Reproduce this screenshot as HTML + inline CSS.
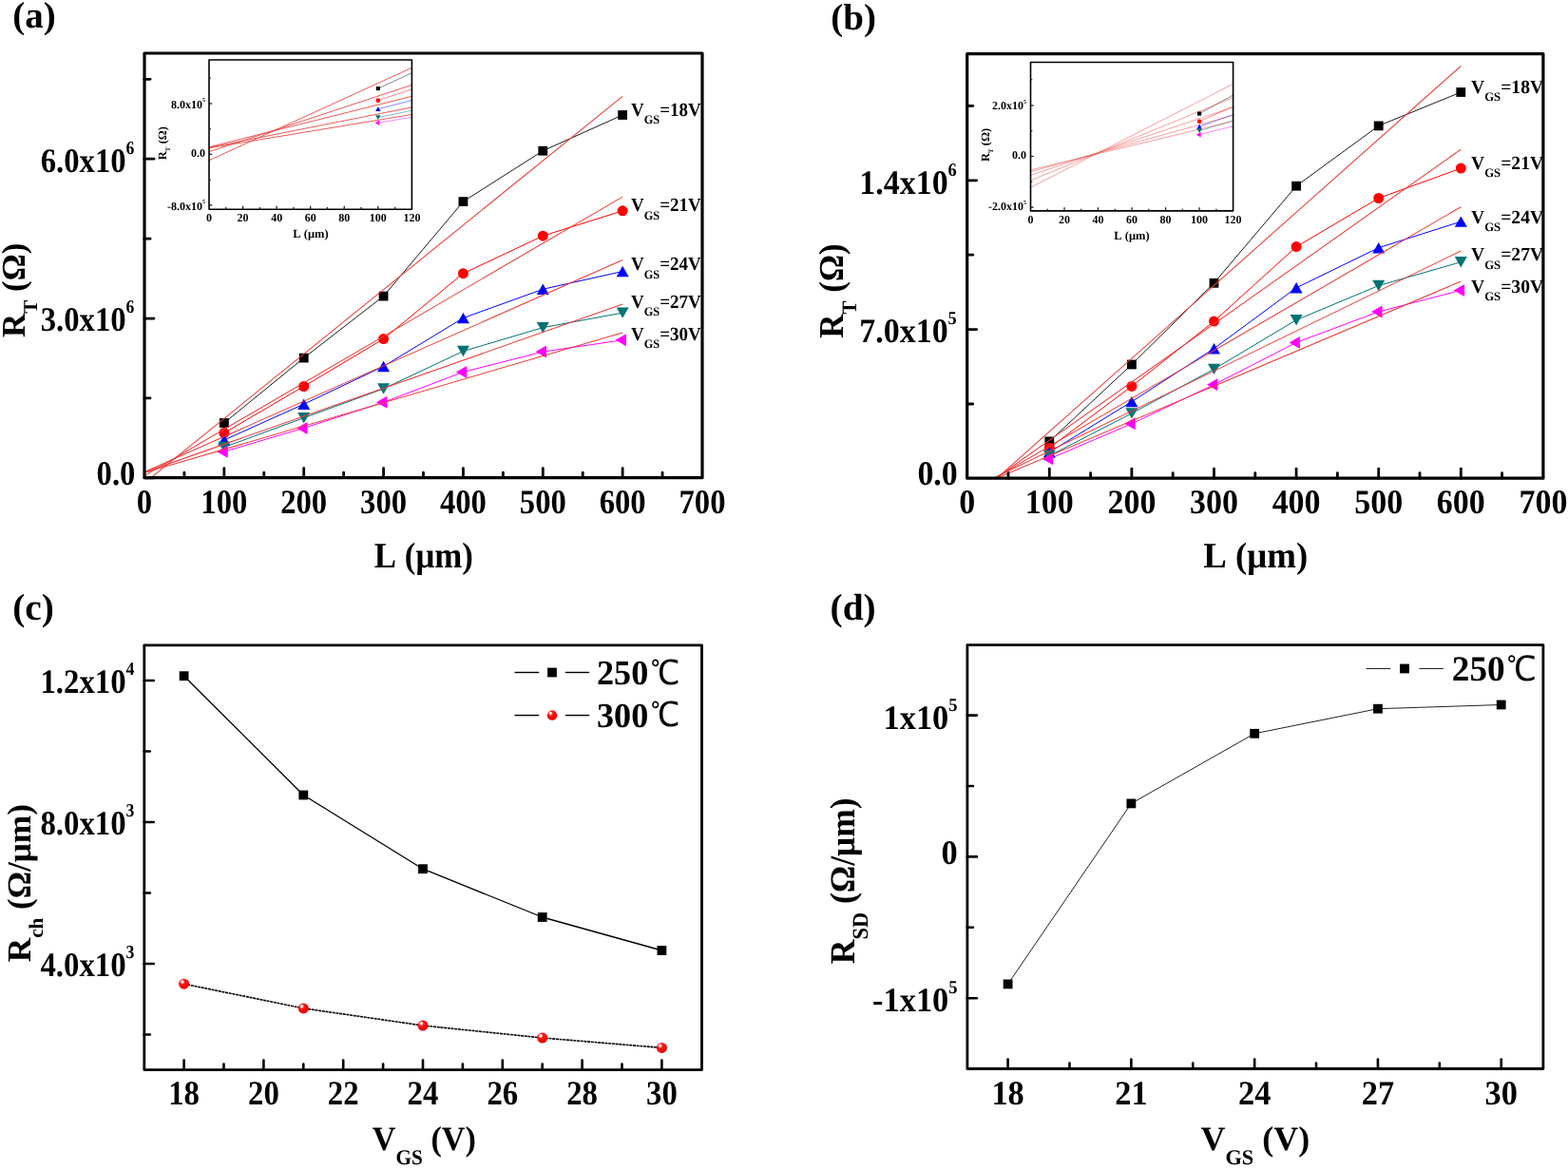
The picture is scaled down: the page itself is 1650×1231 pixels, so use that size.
<!DOCTYPE html>
<html><head><meta charset="utf-8"><title>Figure</title>
<style>
html,body{margin:0;padding:0;background:#fff;}
svg{display:block;}
text{font-kerning:none;text-rendering:geometricPrecision;}
</style></head>
<body>
<svg width="1650" height="1231" viewBox="0 0 1650 1231">
<rect width="1650" height="1231" fill="#fff"/>
<defs><radialGradient id="ball" cx="0.36" cy="0.32" r="0.75" fx="0.34" fy="0.3"><stop offset="0" stop-color="#ffffff"/><stop offset="0.16" stop-color="#ffd0d0"/><stop offset="0.3" stop-color="#ff1a1a"/><stop offset="0.8" stop-color="#ee0000"/><stop offset="1" stop-color="#cc0000"/></radialGradient></defs>
<clipPath id="clipa"><rect x="152" y="56" width="587" height="446.7"/></clipPath>
<g clip-path="url(#clipa)">
<polyline points="235.86,445 319.71,376.6 403.57,311.6 487.43,212.1 571.29,158.7 655.14,121" fill="none" stroke="#1a1a1a" stroke-width="1" stroke-linejoin="round" />
<polyline points="235.86,455.5 319.71,406.5 403.57,356.6 487.43,287.7 571.29,248.2 655.14,221.8" fill="none" stroke="#ff0000" stroke-width="1" stroke-linejoin="round" />
<polyline points="235.86,463 319.71,425.2 403.57,385.5 487.43,334.6 571.29,304.3 655.14,285.5" fill="none" stroke="#0000ff" stroke-width="1" stroke-linejoin="round" />
<polyline points="235.86,470.5 319.71,439.7 403.57,409 487.43,369.5 571.29,344.7 655.14,329.1" fill="none" stroke="#057272" stroke-width="1" stroke-linejoin="round" />
<polyline points="235.86,475.2 319.71,450.4 403.57,423.3 487.43,391.4 571.29,370.1 655.14,357.8" fill="none" stroke="#ff00ff" stroke-width="1" stroke-linejoin="round" />
<rect x="230.96" y="440.1" width="9.8" height="9.8" fill="#000"/>
<rect x="314.81" y="371.7" width="9.8" height="9.8" fill="#000"/>
<rect x="398.67" y="306.7" width="9.8" height="9.8" fill="#000"/>
<rect x="482.53" y="207.2" width="9.8" height="9.8" fill="#000"/>
<rect x="566.39" y="153.8" width="9.8" height="9.8" fill="#000"/>
<rect x="650.24" y="116.1" width="9.8" height="9.8" fill="#000"/>
<circle cx="235.86" cy="455.5" r="5.5" fill="#ff0000"/>
<circle cx="319.71" cy="406.5" r="5.5" fill="#ff0000"/>
<circle cx="403.57" cy="356.6" r="5.5" fill="#ff0000"/>
<circle cx="487.43" cy="287.7" r="5.5" fill="#ff0000"/>
<circle cx="571.29" cy="248.2" r="5.5" fill="#ff0000"/>
<circle cx="655.14" cy="221.8" r="5.5" fill="#ff0000"/>
<polygon points="235.86,457.3 229.36,468.7 242.36,468.7" fill="#0000ff"/>
<polygon points="319.71,419.5 313.21,430.9 326.21,430.9" fill="#0000ff"/>
<polygon points="403.57,379.8 397.07,391.2 410.07,391.2" fill="#0000ff"/>
<polygon points="487.43,328.9 480.93,340.3 493.93,340.3" fill="#0000ff"/>
<polygon points="571.29,298.6 564.79,310 577.79,310" fill="#0000ff"/>
<polygon points="655.14,279.8 648.64,291.2 661.64,291.2" fill="#0000ff"/>
<polygon points="235.86,476.2 229.36,464.8 242.36,464.8" fill="#057272"/>
<polygon points="319.71,445.4 313.21,434 326.21,434" fill="#057272"/>
<polygon points="403.57,414.7 397.07,403.3 410.07,403.3" fill="#057272"/>
<polygon points="487.43,375.2 480.93,363.8 493.93,363.8" fill="#057272"/>
<polygon points="571.29,350.4 564.79,339 577.79,339" fill="#057272"/>
<polygon points="655.14,334.8 648.64,323.4 661.64,323.4" fill="#057272"/>
<polygon points="228.26,475.2 239.66,468.7 239.66,481.7" fill="#ff00ff"/>
<polygon points="312.11,450.4 323.51,443.9 323.51,456.9" fill="#ff00ff"/>
<polygon points="395.97,423.3 407.37,416.8 407.37,429.8" fill="#ff00ff"/>
<polygon points="479.83,391.4 491.23,384.9 491.23,397.9" fill="#ff00ff"/>
<polygon points="563.69,370.1 575.09,363.6 575.09,376.6" fill="#ff00ff"/>
<polygon points="647.54,357.8 658.94,351.3 658.94,364.3" fill="#ff00ff"/>
<line x1="152" y1="508.15" x2="655.14" y2="101.32" stroke="#ea3c3c" stroke-width="1.05" stroke-linecap="butt" />
<line x1="152" y1="500.61" x2="655.14" y2="207.08" stroke="#ea3c3c" stroke-width="1.05" stroke-linecap="butt" />
<line x1="152" y1="496.46" x2="655.14" y2="273.41" stroke="#ea3c3c" stroke-width="1.05" stroke-linecap="butt" />
<line x1="152" y1="496.9" x2="655.14" y2="320.07" stroke="#ea3c3c" stroke-width="1.05" stroke-linecap="butt" />
<line x1="152" y1="497.35" x2="655.14" y2="349.95" stroke="#ea3c3c" stroke-width="1.05" stroke-linecap="butt" />
</g>
<rect x="152" y="56" width="587" height="446.7" fill="none" stroke="#000" stroke-width="3.2" stroke-linejoin="round"/>
<line x1="235.86" y1="502.7" x2="235.86" y2="492.7" stroke="#000" stroke-width="2.8" stroke-linecap="round" />
<line x1="319.71" y1="502.7" x2="319.71" y2="492.7" stroke="#000" stroke-width="2.8" stroke-linecap="round" />
<line x1="403.57" y1="502.7" x2="403.57" y2="492.7" stroke="#000" stroke-width="2.8" stroke-linecap="round" />
<line x1="487.43" y1="502.7" x2="487.43" y2="492.7" stroke="#000" stroke-width="2.8" stroke-linecap="round" />
<line x1="571.29" y1="502.7" x2="571.29" y2="492.7" stroke="#000" stroke-width="2.8" stroke-linecap="round" />
<line x1="655.14" y1="502.7" x2="655.14" y2="492.7" stroke="#000" stroke-width="2.8" stroke-linecap="round" />
<line x1="193.93" y1="502.7" x2="193.93" y2="497.2" stroke="#000" stroke-width="2.8" stroke-linecap="round" />
<line x1="277.79" y1="502.7" x2="277.79" y2="497.2" stroke="#000" stroke-width="2.8" stroke-linecap="round" />
<line x1="361.64" y1="502.7" x2="361.64" y2="497.2" stroke="#000" stroke-width="2.8" stroke-linecap="round" />
<line x1="445.5" y1="502.7" x2="445.5" y2="497.2" stroke="#000" stroke-width="2.8" stroke-linecap="round" />
<line x1="529.36" y1="502.7" x2="529.36" y2="497.2" stroke="#000" stroke-width="2.8" stroke-linecap="round" />
<line x1="613.21" y1="502.7" x2="613.21" y2="497.2" stroke="#000" stroke-width="2.8" stroke-linecap="round" />
<line x1="697.07" y1="502.7" x2="697.07" y2="497.2" stroke="#000" stroke-width="2.8" stroke-linecap="round" />
<line x1="152" y1="502.8" x2="162" y2="502.8" stroke="#000" stroke-width="2.8" stroke-linecap="round" />
<line x1="152" y1="335.1" x2="162" y2="335.1" stroke="#000" stroke-width="2.8" stroke-linecap="round" />
<line x1="152" y1="167.2" x2="162" y2="167.2" stroke="#000" stroke-width="2.8" stroke-linecap="round" />
<line x1="152" y1="418.9" x2="158" y2="418.9" stroke="#000" stroke-width="2.8" stroke-linecap="round" />
<line x1="152" y1="251.2" x2="158" y2="251.2" stroke="#000" stroke-width="2.8" stroke-linecap="round" />
<line x1="152" y1="83.3" x2="158" y2="83.3" stroke="#000" stroke-width="2.8" stroke-linecap="round" />
<text transform="translate(152,539.6) scale(0.907,1.0)" font-family="'Liberation Serif', 'Noto Serif CJK SC', serif" font-weight="bold" font-size="36" text-anchor="middle" fill="#000">0</text>
<text transform="translate(235.86,539.6) scale(0.907,1.0)" font-family="'Liberation Serif', 'Noto Serif CJK SC', serif" font-weight="bold" font-size="36" text-anchor="middle" fill="#000">100</text>
<text transform="translate(319.71,539.6) scale(0.907,1.0)" font-family="'Liberation Serif', 'Noto Serif CJK SC', serif" font-weight="bold" font-size="36" text-anchor="middle" fill="#000">200</text>
<text transform="translate(403.57,539.6) scale(0.907,1.0)" font-family="'Liberation Serif', 'Noto Serif CJK SC', serif" font-weight="bold" font-size="36" text-anchor="middle" fill="#000">300</text>
<text transform="translate(487.43,539.6) scale(0.907,1.0)" font-family="'Liberation Serif', 'Noto Serif CJK SC', serif" font-weight="bold" font-size="36" text-anchor="middle" fill="#000">400</text>
<text transform="translate(571.29,539.6) scale(0.907,1.0)" font-family="'Liberation Serif', 'Noto Serif CJK SC', serif" font-weight="bold" font-size="36" text-anchor="middle" fill="#000">500</text>
<text transform="translate(655.14,539.6) scale(0.907,1.0)" font-family="'Liberation Serif', 'Noto Serif CJK SC', serif" font-weight="bold" font-size="36" text-anchor="middle" fill="#000">600</text>
<text transform="translate(739,539.6) scale(0.907,1.0)" font-family="'Liberation Serif', 'Noto Serif CJK SC', serif" font-weight="bold" font-size="36" text-anchor="middle" fill="#000">700</text>
<text transform="translate(142.4,509.6) scale(0.907,1.0)" font-family="'Liberation Serif', 'Noto Serif CJK SC', serif" font-weight="bold" font-size="36" text-anchor="end" fill="#000">0.0</text>
<text transform="translate(141.4,348) scale(0.907,1.0)" font-family="'Liberation Serif', 'Noto Serif CJK SC', serif" font-weight="bold" font-size="36" text-anchor="end" fill="#000">3.0x10<tspan font-size="19.5" dy="-18.9">6</tspan></text>
<text transform="translate(141.4,180.6) scale(0.907,1.0)" font-family="'Liberation Serif', 'Noto Serif CJK SC', serif" font-weight="bold" font-size="36" text-anchor="end" fill="#000">6.0x10<tspan font-size="19.5" dy="-18.9">6</tspan></text>
<text transform="translate(445.8,596.7) scale(0.918,1.0)" font-family="'Liberation Serif', 'Noto Serif CJK SC', serif" font-weight="bold" font-size="38" text-anchor="middle" fill="#000">L (μm)</text>
<text transform="translate(25.8,355) rotate(-90)" font-family="'Liberation Serif', 'Noto Serif CJK SC', serif" font-weight="bold" font-size="35" text-anchor="start" fill="#000">R<tspan font-size="21" dy="13.6">T</tspan><tspan font-size="35" dy="-13.6"> (Ω)</tspan></text>
<text transform="translate(664,121.8) scale(0.95,1.0)" font-family="'Liberation Serif', 'Noto Serif CJK SC', serif" font-weight="bold" font-size="20" text-anchor="start" fill="#000">V<tspan font-size="13" dy="8.4">GS</tspan><tspan font-size="20" dy="-8.4">=18V</tspan></text>
<text transform="translate(664,222.1) scale(0.95,1.0)" font-family="'Liberation Serif', 'Noto Serif CJK SC', serif" font-weight="bold" font-size="20" text-anchor="start" fill="#000">V<tspan font-size="13" dy="8.4">GS</tspan><tspan font-size="20" dy="-8.4">=21V</tspan></text>
<text transform="translate(664,284.2) scale(0.95,1.0)" font-family="'Liberation Serif', 'Noto Serif CJK SC', serif" font-weight="bold" font-size="20" text-anchor="start" fill="#000">V<tspan font-size="13" dy="8.4">GS</tspan><tspan font-size="20" dy="-8.4">=24V</tspan></text>
<text transform="translate(664,323.7) scale(0.95,1.0)" font-family="'Liberation Serif', 'Noto Serif CJK SC', serif" font-weight="bold" font-size="20" text-anchor="start" fill="#000">V<tspan font-size="13" dy="8.4">GS</tspan><tspan font-size="20" dy="-8.4">=27V</tspan></text>
<text transform="translate(664,357.8) scale(0.95,1.0)" font-family="'Liberation Serif', 'Noto Serif CJK SC', serif" font-weight="bold" font-size="20" text-anchor="start" fill="#000">V<tspan font-size="13" dy="8.4">GS</tspan><tspan font-size="20" dy="-8.4">=30V</tspan></text>
<text transform="translate(13.25,29.2)" font-family="'Liberation Serif', 'Noto Serif CJK SC', serif" font-weight="bold" font-size="39" text-anchor="start" fill="#000">(a)</text>
<rect x="220" y="63" width="213.4" height="157.3" fill="#fff"/>
<clipPath id="clipia"><rect x="220" y="63" width="213.4" height="157.3"/></clipPath>
<g clip-path="url(#clipia)">
<polyline points="397.83,93.11 575.67,11.23" fill="none" stroke="#000000" stroke-width="0.8" stroke-linejoin="round" stroke-opacity="0.6"/>
<polyline points="397.83,105.68 575.67,47.02" fill="none" stroke="#ff0000" stroke-width="0.8" stroke-linejoin="round" stroke-opacity="0.6"/>
<polyline points="397.83,114.66 575.67,69.41" fill="none" stroke="#0000ff" stroke-width="0.8" stroke-linejoin="round" stroke-opacity="0.6"/>
<polyline points="397.83,123.63 575.67,86.76" fill="none" stroke="#057272" stroke-width="0.8" stroke-linejoin="round" stroke-opacity="0.6"/>
<polyline points="397.83,129.26 575.67,99.57" fill="none" stroke="#ff00ff" stroke-width="0.8" stroke-linejoin="round" stroke-opacity="0.6"/>
<line x1="220" y1="168.71" x2="433.4" y2="71.3" stroke="#ea3c3c" stroke-width="0.9" stroke-linecap="butt" stroke-opacity="0.95"/>
<line x1="220" y1="159.68" x2="433.4" y2="89.4" stroke="#ea3c3c" stroke-width="0.9" stroke-linecap="butt" stroke-opacity="0.95"/>
<line x1="220" y1="154.71" x2="433.4" y2="101.31" stroke="#ea3c3c" stroke-width="0.9" stroke-linecap="butt" stroke-opacity="0.95"/>
<line x1="220" y1="155.24" x2="433.4" y2="112.9" stroke="#ea3c3c" stroke-width="0.9" stroke-linecap="butt" stroke-opacity="0.95"/>
<line x1="220" y1="155.77" x2="433.4" y2="120.48" stroke="#ea3c3c" stroke-width="0.9" stroke-linecap="butt" stroke-opacity="0.95"/>
<rect x="395.78" y="91.05" width="4.12" height="4.12" fill="#000"/>
<circle cx="397.83" cy="105.68" r="2.31" fill="#ff0000"/>
<polygon points="397.83,112.26 395.1,117.05 400.56,117.05" fill="#0000ff"/>
<polygon points="397.83,126.03 395.1,121.24 400.56,121.24" fill="#057272"/>
<polygon points="394.64,129.26 399.43,126.53 399.43,131.99" fill="#ff00ff"/>
</g>
<rect x="220" y="63" width="213.4" height="157.3" fill="none" stroke="#000" stroke-width="1.6" stroke-linejoin="round"/>
<line x1="255.57" y1="220.3" x2="255.57" y2="217.1" stroke="#222" stroke-width="1.3" stroke-linecap="round" />
<line x1="291.13" y1="220.3" x2="291.13" y2="217.1" stroke="#222" stroke-width="1.3" stroke-linecap="round" />
<line x1="326.7" y1="220.3" x2="326.7" y2="217.1" stroke="#222" stroke-width="1.3" stroke-linecap="round" />
<line x1="362.27" y1="220.3" x2="362.27" y2="217.1" stroke="#222" stroke-width="1.3" stroke-linecap="round" />
<line x1="397.83" y1="220.3" x2="397.83" y2="217.1" stroke="#222" stroke-width="1.3" stroke-linecap="round" />
<line x1="237.78" y1="220.3" x2="237.78" y2="218.5" stroke="#222" stroke-width="1.3" stroke-linecap="round" />
<line x1="273.35" y1="220.3" x2="273.35" y2="218.5" stroke="#222" stroke-width="1.3" stroke-linecap="round" />
<line x1="308.92" y1="220.3" x2="308.92" y2="218.5" stroke="#222" stroke-width="1.3" stroke-linecap="round" />
<line x1="344.48" y1="220.3" x2="344.48" y2="218.5" stroke="#222" stroke-width="1.3" stroke-linecap="round" />
<line x1="380.05" y1="220.3" x2="380.05" y2="218.5" stroke="#222" stroke-width="1.3" stroke-linecap="round" />
<line x1="415.62" y1="220.3" x2="415.62" y2="218.5" stroke="#222" stroke-width="1.3" stroke-linecap="round" />
<line x1="220" y1="215.9" x2="223.2" y2="215.9" stroke="#222" stroke-width="1.3" stroke-linecap="butt" />
<line x1="220" y1="162.3" x2="223.2" y2="162.3" stroke="#222" stroke-width="1.3" stroke-linecap="butt" />
<line x1="220" y1="109" x2="223.2" y2="109" stroke="#222" stroke-width="1.3" stroke-linecap="butt" />
<line x1="220" y1="189.1" x2="221.8" y2="189.1" stroke="#222" stroke-width="1.3" stroke-linecap="butt" />
<line x1="220" y1="135.6" x2="221.8" y2="135.6" stroke="#222" stroke-width="1.3" stroke-linecap="butt" />
<line x1="220" y1="82.2" x2="221.8" y2="82.2" stroke="#222" stroke-width="1.3" stroke-linecap="butt" />
<text transform="translate(220,233)" font-family="'Liberation Serif', 'Noto Serif CJK SC', serif" font-weight="bold" font-size="12" text-anchor="middle" fill="#000">0</text>
<text transform="translate(255.57,233)" font-family="'Liberation Serif', 'Noto Serif CJK SC', serif" font-weight="bold" font-size="12" text-anchor="middle" fill="#000">20</text>
<text transform="translate(291.13,233)" font-family="'Liberation Serif', 'Noto Serif CJK SC', serif" font-weight="bold" font-size="12" text-anchor="middle" fill="#000">40</text>
<text transform="translate(326.7,233)" font-family="'Liberation Serif', 'Noto Serif CJK SC', serif" font-weight="bold" font-size="12" text-anchor="middle" fill="#000">60</text>
<text transform="translate(362.27,233)" font-family="'Liberation Serif', 'Noto Serif CJK SC', serif" font-weight="bold" font-size="12" text-anchor="middle" fill="#000">80</text>
<text transform="translate(397.83,233)" font-family="'Liberation Serif', 'Noto Serif CJK SC', serif" font-weight="bold" font-size="12" text-anchor="middle" fill="#000">100</text>
<text transform="translate(433.4,233)" font-family="'Liberation Serif', 'Noto Serif CJK SC', serif" font-weight="bold" font-size="12" text-anchor="middle" fill="#000">120</text>
<text transform="translate(216,220.6)" font-family="'Liberation Serif', 'Noto Serif CJK SC', serif" font-weight="bold" font-size="12" text-anchor="end" fill="#000">-8.0x10<tspan font-size="6" dy="-6.3">5</tspan></text>
<text transform="translate(216,164.7)" font-family="'Liberation Serif', 'Noto Serif CJK SC', serif" font-weight="bold" font-size="12" text-anchor="end" fill="#000">0.0</text>
<text transform="translate(216,113.6)" font-family="'Liberation Serif', 'Noto Serif CJK SC', serif" font-weight="bold" font-size="12" text-anchor="end" fill="#000">8.0x10<tspan font-size="6" dy="-6.3">5</tspan></text>
<text transform="translate(327,250.4)" font-family="'Liberation Serif', 'Noto Serif CJK SC', serif" font-weight="bold" font-size="12.5" text-anchor="middle" fill="#000">L (μm)</text>
<text transform="translate(175.3,168.2) rotate(-90)" font-family="'Liberation Serif', 'Noto Serif CJK SC', serif" font-weight="bold" font-size="12.5" text-anchor="start" fill="#000">R<tspan font-size="7" dy="4">T</tspan><tspan font-size="12.5" dy="-4"> (Ω)</tspan></text>
<clipPath id="clipb"><rect x="1017.7" y="56.7" width="606.2" height="446.5"/></clipPath>
<g clip-path="url(#clipb)">
<polyline points="1104.3,464.4 1190.9,383.5 1277.5,297.8 1364.1,195.7 1450.7,132.4 1537.3,97" fill="none" stroke="#1a1a1a" stroke-width="1" stroke-linejoin="round" />
<polyline points="1104.3,471.2 1190.9,406.4 1277.5,338.1 1364.1,259.6 1450.7,208.5 1537.3,177.1" fill="none" stroke="#ff0000" stroke-width="1" stroke-linejoin="round" />
<polyline points="1104.3,475.8 1190.9,422.6 1277.5,366.7 1364.1,302.8 1450.7,260.7 1537.3,233.1" fill="none" stroke="#0000ff" stroke-width="1" stroke-linejoin="round" />
<polyline points="1104.3,479.5 1190.9,434.9 1277.5,388.4 1364.1,336.7 1450.7,300.5 1537.3,275.7" fill="none" stroke="#057272" stroke-width="1" stroke-linejoin="round" />
<polyline points="1104.3,482.8 1190.9,445.8 1277.5,404.7 1364.1,360.4 1450.7,328 1537.3,305.4" fill="none" stroke="#ff00ff" stroke-width="1" stroke-linejoin="round" />
<rect x="1099.4" y="459.5" width="9.8" height="9.8" fill="#000"/>
<rect x="1186" y="378.6" width="9.8" height="9.8" fill="#000"/>
<rect x="1272.6" y="292.9" width="9.8" height="9.8" fill="#000"/>
<rect x="1359.2" y="190.8" width="9.8" height="9.8" fill="#000"/>
<rect x="1445.8" y="127.5" width="9.8" height="9.8" fill="#000"/>
<rect x="1532.4" y="92.1" width="9.8" height="9.8" fill="#000"/>
<circle cx="1104.3" cy="471.2" r="5.5" fill="#ff0000"/>
<circle cx="1190.9" cy="406.4" r="5.5" fill="#ff0000"/>
<circle cx="1277.5" cy="338.1" r="5.5" fill="#ff0000"/>
<circle cx="1364.1" cy="259.6" r="5.5" fill="#ff0000"/>
<circle cx="1450.7" cy="208.5" r="5.5" fill="#ff0000"/>
<circle cx="1537.3" cy="177.1" r="5.5" fill="#ff0000"/>
<polygon points="1104.3,470.1 1097.8,481.5 1110.8,481.5" fill="#0000ff"/>
<polygon points="1190.9,416.9 1184.4,428.3 1197.4,428.3" fill="#0000ff"/>
<polygon points="1277.5,361 1271,372.4 1284,372.4" fill="#0000ff"/>
<polygon points="1364.1,297.1 1357.6,308.5 1370.6,308.5" fill="#0000ff"/>
<polygon points="1450.7,255 1444.2,266.4 1457.2,266.4" fill="#0000ff"/>
<polygon points="1537.3,227.4 1530.8,238.8 1543.8,238.8" fill="#0000ff"/>
<polygon points="1104.3,485.2 1097.8,473.8 1110.8,473.8" fill="#057272"/>
<polygon points="1190.9,440.6 1184.4,429.2 1197.4,429.2" fill="#057272"/>
<polygon points="1277.5,394.1 1271,382.7 1284,382.7" fill="#057272"/>
<polygon points="1364.1,342.4 1357.6,331 1370.6,331" fill="#057272"/>
<polygon points="1450.7,306.2 1444.2,294.8 1457.2,294.8" fill="#057272"/>
<polygon points="1537.3,281.4 1530.8,270 1543.8,270" fill="#057272"/>
<polygon points="1096.7,482.8 1108.1,476.3 1108.1,489.3" fill="#ff00ff"/>
<polygon points="1183.3,445.8 1194.7,439.3 1194.7,452.3" fill="#ff00ff"/>
<polygon points="1269.9,404.7 1281.3,398.2 1281.3,411.2" fill="#ff00ff"/>
<polygon points="1356.5,360.4 1367.9,353.9 1367.9,366.9" fill="#ff00ff"/>
<polygon points="1443.1,328 1454.5,321.5 1454.5,334.5" fill="#ff00ff"/>
<polygon points="1529.7,305.4 1541.1,298.9 1541.1,311.9" fill="#ff00ff"/>
<line x1="1017.7" y1="531.04" x2="1537.3" y2="69.49" stroke="#ea3c3c" stroke-width="1.05" stroke-linecap="butt" />
<line x1="1017.7" y1="524.42" x2="1537.3" y2="157.1" stroke="#ea3c3c" stroke-width="1.05" stroke-linecap="butt" />
<line x1="1017.7" y1="519.93" x2="1537.3" y2="217.68" stroke="#ea3c3c" stroke-width="1.05" stroke-linecap="butt" />
<line x1="1017.7" y1="516.67" x2="1537.3" y2="264" stroke="#ea3c3c" stroke-width="1.05" stroke-linecap="butt" />
<line x1="1017.7" y1="516.32" x2="1537.3" y2="296.09" stroke="#ea3c3c" stroke-width="1.05" stroke-linecap="butt" />
</g>
<rect x="1017.7" y="56.7" width="606.2" height="446.5" fill="none" stroke="#000" stroke-width="3.2" stroke-linejoin="round"/>
<line x1="1104.3" y1="503.2" x2="1104.3" y2="493.2" stroke="#000" stroke-width="2.8" stroke-linecap="round" />
<line x1="1190.9" y1="503.2" x2="1190.9" y2="493.2" stroke="#000" stroke-width="2.8" stroke-linecap="round" />
<line x1="1277.5" y1="503.2" x2="1277.5" y2="493.2" stroke="#000" stroke-width="2.8" stroke-linecap="round" />
<line x1="1364.1" y1="503.2" x2="1364.1" y2="493.2" stroke="#000" stroke-width="2.8" stroke-linecap="round" />
<line x1="1450.7" y1="503.2" x2="1450.7" y2="493.2" stroke="#000" stroke-width="2.8" stroke-linecap="round" />
<line x1="1537.3" y1="503.2" x2="1537.3" y2="493.2" stroke="#000" stroke-width="2.8" stroke-linecap="round" />
<line x1="1061" y1="503.2" x2="1061" y2="497.7" stroke="#000" stroke-width="2.8" stroke-linecap="round" />
<line x1="1147.6" y1="503.2" x2="1147.6" y2="497.7" stroke="#000" stroke-width="2.8" stroke-linecap="round" />
<line x1="1234.2" y1="503.2" x2="1234.2" y2="497.7" stroke="#000" stroke-width="2.8" stroke-linecap="round" />
<line x1="1320.8" y1="503.2" x2="1320.8" y2="497.7" stroke="#000" stroke-width="2.8" stroke-linecap="round" />
<line x1="1407.4" y1="503.2" x2="1407.4" y2="497.7" stroke="#000" stroke-width="2.8" stroke-linecap="round" />
<line x1="1494" y1="503.2" x2="1494" y2="497.7" stroke="#000" stroke-width="2.8" stroke-linecap="round" />
<line x1="1580.6" y1="503.2" x2="1580.6" y2="497.7" stroke="#000" stroke-width="2.8" stroke-linecap="round" />
<line x1="1017.7" y1="346.6" x2="1027.7" y2="346.6" stroke="#000" stroke-width="2.8" stroke-linecap="round" />
<line x1="1017.7" y1="189.8" x2="1027.7" y2="189.8" stroke="#000" stroke-width="2.8" stroke-linecap="round" />
<line x1="1017.7" y1="425" x2="1023.7" y2="425" stroke="#000" stroke-width="2.8" stroke-linecap="round" />
<line x1="1017.7" y1="268.2" x2="1023.7" y2="268.2" stroke="#000" stroke-width="2.8" stroke-linecap="round" />
<line x1="1017.7" y1="111.4" x2="1023.7" y2="111.4" stroke="#000" stroke-width="2.8" stroke-linecap="round" />
<text transform="translate(1017.7,539.5) scale(0.942,1.0)" font-family="'Liberation Serif', 'Noto Serif CJK SC', serif" font-weight="bold" font-size="36" text-anchor="middle" fill="#000">0</text>
<text transform="translate(1104.3,539.5) scale(0.942,1.0)" font-family="'Liberation Serif', 'Noto Serif CJK SC', serif" font-weight="bold" font-size="36" text-anchor="middle" fill="#000">100</text>
<text transform="translate(1190.9,539.5) scale(0.942,1.0)" font-family="'Liberation Serif', 'Noto Serif CJK SC', serif" font-weight="bold" font-size="36" text-anchor="middle" fill="#000">200</text>
<text transform="translate(1277.5,539.5) scale(0.942,1.0)" font-family="'Liberation Serif', 'Noto Serif CJK SC', serif" font-weight="bold" font-size="36" text-anchor="middle" fill="#000">300</text>
<text transform="translate(1364.1,539.5) scale(0.942,1.0)" font-family="'Liberation Serif', 'Noto Serif CJK SC', serif" font-weight="bold" font-size="36" text-anchor="middle" fill="#000">400</text>
<text transform="translate(1450.7,539.5) scale(0.942,1.0)" font-family="'Liberation Serif', 'Noto Serif CJK SC', serif" font-weight="bold" font-size="36" text-anchor="middle" fill="#000">500</text>
<text transform="translate(1537.3,539.5) scale(0.942,1.0)" font-family="'Liberation Serif', 'Noto Serif CJK SC', serif" font-weight="bold" font-size="36" text-anchor="middle" fill="#000">600</text>
<text transform="translate(1623.9,539.5) scale(0.942,1.0)" font-family="'Liberation Serif', 'Noto Serif CJK SC', serif" font-weight="bold" font-size="36" text-anchor="middle" fill="#000">700</text>
<text transform="translate(1007.8,509.9) scale(0.942,1.0)" font-family="'Liberation Serif', 'Noto Serif CJK SC', serif" font-weight="bold" font-size="36" text-anchor="end" fill="#000">0.0</text>
<text transform="translate(1006.8,359.6) scale(0.942,1.0)" font-family="'Liberation Serif', 'Noto Serif CJK SC', serif" font-weight="bold" font-size="36" text-anchor="end" fill="#000">7.0x10<tspan font-size="19.5" dy="-18.9">5</tspan></text>
<text transform="translate(1006.8,203.6) scale(0.942,1.0)" font-family="'Liberation Serif', 'Noto Serif CJK SC', serif" font-weight="bold" font-size="36" text-anchor="end" fill="#000">1.4x10<tspan font-size="19.5" dy="-18.9">6</tspan></text>
<text transform="translate(1321.2,597) scale(0.97,1.0)" font-family="'Liberation Serif', 'Noto Serif CJK SC', serif" font-weight="bold" font-size="38" text-anchor="middle" fill="#000">L (μm)</text>
<text transform="translate(886.9,355.8) rotate(-90) scale(1.0,1.045)" font-family="'Liberation Serif', 'Noto Serif CJK SC', serif" font-weight="bold" font-size="35" text-anchor="start" fill="#000">R<tspan font-size="21" dy="13.6">T</tspan><tspan font-size="35" dy="-13.6"> (Ω)</tspan></text>
<text transform="translate(1548,97.7) scale(0.98,1.0)" font-family="'Liberation Serif', 'Noto Serif CJK SC', serif" font-weight="bold" font-size="20" text-anchor="start" fill="#000">V<tspan font-size="13" dy="8.4">GS</tspan><tspan font-size="20" dy="-8.4">=18V</tspan></text>
<text transform="translate(1548,177.7) scale(0.98,1.0)" font-family="'Liberation Serif', 'Noto Serif CJK SC', serif" font-weight="bold" font-size="20" text-anchor="start" fill="#000">V<tspan font-size="13" dy="8.4">GS</tspan><tspan font-size="20" dy="-8.4">=21V</tspan></text>
<text transform="translate(1548,234.5) scale(0.98,1.0)" font-family="'Liberation Serif', 'Noto Serif CJK SC', serif" font-weight="bold" font-size="20" text-anchor="start" fill="#000">V<tspan font-size="13" dy="8.4">GS</tspan><tspan font-size="20" dy="-8.4">=24V</tspan></text>
<text transform="translate(1548,274.2) scale(0.98,1.0)" font-family="'Liberation Serif', 'Noto Serif CJK SC', serif" font-weight="bold" font-size="20" text-anchor="start" fill="#000">V<tspan font-size="13" dy="8.4">GS</tspan><tspan font-size="20" dy="-8.4">=27V</tspan></text>
<text transform="translate(1548,307.8) scale(0.98,1.0)" font-family="'Liberation Serif', 'Noto Serif CJK SC', serif" font-weight="bold" font-size="20" text-anchor="start" fill="#000">V<tspan font-size="13" dy="8.4">GS</tspan><tspan font-size="20" dy="-8.4">=30V</tspan></text>
<text transform="translate(874.25,31.1)" font-family="'Liberation Serif', 'Noto Serif CJK SC', serif" font-weight="bold" font-size="39" text-anchor="start" fill="#000">(b)</text>
<rect x="1084.5" y="65.5" width="213.1" height="156.4" fill="#fff"/>
<clipPath id="clipib"><rect x="1084.5" y="65.5" width="213.1" height="156.4"/></clipPath>
<g clip-path="url(#clipib)">
<polyline points="1262.08,119.55 1439.67,22.33" fill="none" stroke="#000000" stroke-width="0.8" stroke-linejoin="round" stroke-opacity="0.6"/>
<polyline points="1262.08,127.72 1439.67,49.85" fill="none" stroke="#ff0000" stroke-width="0.8" stroke-linejoin="round" stroke-opacity="0.6"/>
<polyline points="1262.08,133.25 1439.67,69.32" fill="none" stroke="#0000ff" stroke-width="0.8" stroke-linejoin="round" stroke-opacity="0.6"/>
<polyline points="1262.08,137.7 1439.67,84.1" fill="none" stroke="#057272" stroke-width="0.8" stroke-linejoin="round" stroke-opacity="0.6"/>
<polyline points="1262.08,141.67 1439.67,97.2" fill="none" stroke="#ff00ff" stroke-width="0.8" stroke-linejoin="round" stroke-opacity="0.6"/>
<line x1="1084.5" y1="197.2" x2="1297.6" y2="88.3" stroke="#ea3c3c" stroke-width="0.9" stroke-linecap="butt" stroke-opacity="0.55"/>
<line x1="1084.5" y1="189.9" x2="1297.6" y2="102.6" stroke="#ea3c3c" stroke-width="0.9" stroke-linecap="butt" stroke-opacity="0.55"/>
<line x1="1084.5" y1="184.4" x2="1297.6" y2="112.8" stroke="#ea3c3c" stroke-width="0.9" stroke-linecap="butt" stroke-opacity="0.55"/>
<line x1="1084.5" y1="180.7" x2="1297.6" y2="121.4" stroke="#ea3c3c" stroke-width="0.9" stroke-linecap="butt" stroke-opacity="0.55"/>
<line x1="1084.5" y1="178.9" x2="1297.6" y2="127.4" stroke="#ea3c3c" stroke-width="0.9" stroke-linecap="butt" stroke-opacity="0.55"/>
<rect x="1260.03" y="117.49" width="4.12" height="4.12" fill="#000"/>
<circle cx="1262.08" cy="127.72" r="2.31" fill="#ff0000"/>
<polygon points="1262.08,130.86 1259.35,135.65 1264.81,135.65" fill="#0000ff"/>
<polygon points="1262.08,140.09 1259.35,135.31 1264.81,135.31" fill="#057272"/>
<polygon points="1258.89,141.67 1263.68,138.94 1263.68,144.4" fill="#ff00ff"/>
</g>
<rect x="1084.5" y="65.5" width="213.1" height="156.4" fill="none" stroke="#000" stroke-width="1.6" stroke-linejoin="round"/>
<line x1="1120.02" y1="221.9" x2="1120.02" y2="218.7" stroke="#222" stroke-width="1.3" stroke-linecap="round" />
<line x1="1155.53" y1="221.9" x2="1155.53" y2="218.7" stroke="#222" stroke-width="1.3" stroke-linecap="round" />
<line x1="1191.05" y1="221.9" x2="1191.05" y2="218.7" stroke="#222" stroke-width="1.3" stroke-linecap="round" />
<line x1="1226.57" y1="221.9" x2="1226.57" y2="218.7" stroke="#222" stroke-width="1.3" stroke-linecap="round" />
<line x1="1262.08" y1="221.9" x2="1262.08" y2="218.7" stroke="#222" stroke-width="1.3" stroke-linecap="round" />
<line x1="1102.26" y1="221.9" x2="1102.26" y2="220.1" stroke="#222" stroke-width="1.3" stroke-linecap="round" />
<line x1="1137.78" y1="221.9" x2="1137.78" y2="220.1" stroke="#222" stroke-width="1.3" stroke-linecap="round" />
<line x1="1173.29" y1="221.9" x2="1173.29" y2="220.1" stroke="#222" stroke-width="1.3" stroke-linecap="round" />
<line x1="1208.81" y1="221.9" x2="1208.81" y2="220.1" stroke="#222" stroke-width="1.3" stroke-linecap="round" />
<line x1="1244.32" y1="221.9" x2="1244.32" y2="220.1" stroke="#222" stroke-width="1.3" stroke-linecap="round" />
<line x1="1279.84" y1="221.9" x2="1279.84" y2="220.1" stroke="#222" stroke-width="1.3" stroke-linecap="round" />
<line x1="1084.5" y1="218.1" x2="1087.7" y2="218.1" stroke="#222" stroke-width="1.3" stroke-linecap="butt" />
<line x1="1084.5" y1="164.5" x2="1087.7" y2="164.5" stroke="#222" stroke-width="1.3" stroke-linecap="butt" />
<line x1="1084.5" y1="111" x2="1087.7" y2="111" stroke="#222" stroke-width="1.3" stroke-linecap="butt" />
<line x1="1084.5" y1="191.4" x2="1086.3" y2="191.4" stroke="#222" stroke-width="1.3" stroke-linecap="butt" />
<line x1="1084.5" y1="137.7" x2="1086.3" y2="137.7" stroke="#222" stroke-width="1.3" stroke-linecap="butt" />
<line x1="1084.5" y1="83.7" x2="1086.3" y2="83.7" stroke="#222" stroke-width="1.3" stroke-linecap="butt" />
<text transform="translate(1084.5,235)" font-family="'Liberation Serif', 'Noto Serif CJK SC', serif" font-weight="bold" font-size="12" text-anchor="middle" fill="#000">0</text>
<text transform="translate(1120.02,235)" font-family="'Liberation Serif', 'Noto Serif CJK SC', serif" font-weight="bold" font-size="12" text-anchor="middle" fill="#000">20</text>
<text transform="translate(1155.53,235)" font-family="'Liberation Serif', 'Noto Serif CJK SC', serif" font-weight="bold" font-size="12" text-anchor="middle" fill="#000">40</text>
<text transform="translate(1191.05,235)" font-family="'Liberation Serif', 'Noto Serif CJK SC', serif" font-weight="bold" font-size="12" text-anchor="middle" fill="#000">60</text>
<text transform="translate(1226.57,235)" font-family="'Liberation Serif', 'Noto Serif CJK SC', serif" font-weight="bold" font-size="12" text-anchor="middle" fill="#000">80</text>
<text transform="translate(1262.08,235)" font-family="'Liberation Serif', 'Noto Serif CJK SC', serif" font-weight="bold" font-size="12" text-anchor="middle" fill="#000">100</text>
<text transform="translate(1297.6,235)" font-family="'Liberation Serif', 'Noto Serif CJK SC', serif" font-weight="bold" font-size="12" text-anchor="middle" fill="#000">120</text>
<text transform="translate(1080,221.4)" font-family="'Liberation Serif', 'Noto Serif CJK SC', serif" font-weight="bold" font-size="12" text-anchor="end" fill="#000">-2.0x10<tspan font-size="6" dy="-6.3">5</tspan></text>
<text transform="translate(1080,166.8)" font-family="'Liberation Serif', 'Noto Serif CJK SC', serif" font-weight="bold" font-size="12" text-anchor="end" fill="#000">0.0</text>
<text transform="translate(1080,115)" font-family="'Liberation Serif', 'Noto Serif CJK SC', serif" font-weight="bold" font-size="12" text-anchor="end" fill="#000">2.0x10<tspan font-size="6" dy="-6.3">5</tspan></text>
<text transform="translate(1191,252.3)" font-family="'Liberation Serif', 'Noto Serif CJK SC', serif" font-weight="bold" font-size="12.5" text-anchor="middle" fill="#000">L (μm)</text>
<text transform="translate(1041,170) rotate(-90)" font-family="'Liberation Serif', 'Noto Serif CJK SC', serif" font-weight="bold" font-size="12.5" text-anchor="start" fill="#000">R<tspan font-size="7" dy="4">T</tspan><tspan font-size="12.5" dy="-4"> (Ω)</tspan></text>
<rect x="151.8" y="678.8" width="586.7" height="446.8" fill="none" stroke="#000" stroke-width="2.8" stroke-linejoin="round"/>
<line x1="193.6" y1="1125.6" x2="193.6" y2="1115.6" stroke="#000" stroke-width="2.6" stroke-linecap="round" />
<line x1="277.4" y1="1125.6" x2="277.4" y2="1115.6" stroke="#000" stroke-width="2.6" stroke-linecap="round" />
<line x1="361.2" y1="1125.6" x2="361.2" y2="1115.6" stroke="#000" stroke-width="2.6" stroke-linecap="round" />
<line x1="445" y1="1125.6" x2="445" y2="1115.6" stroke="#000" stroke-width="2.6" stroke-linecap="round" />
<line x1="528.8" y1="1125.6" x2="528.8" y2="1115.6" stroke="#000" stroke-width="2.6" stroke-linecap="round" />
<line x1="612.6" y1="1125.6" x2="612.6" y2="1115.6" stroke="#000" stroke-width="2.6" stroke-linecap="round" />
<line x1="696.4" y1="1125.6" x2="696.4" y2="1115.6" stroke="#000" stroke-width="2.6" stroke-linecap="round" />
<line x1="235.5" y1="1125.6" x2="235.5" y2="1119.6" stroke="#000" stroke-width="2.6" stroke-linecap="round" />
<line x1="319.3" y1="1125.6" x2="319.3" y2="1119.6" stroke="#000" stroke-width="2.6" stroke-linecap="round" />
<line x1="403.1" y1="1125.6" x2="403.1" y2="1119.6" stroke="#000" stroke-width="2.6" stroke-linecap="round" />
<line x1="486.9" y1="1125.6" x2="486.9" y2="1119.6" stroke="#000" stroke-width="2.6" stroke-linecap="round" />
<line x1="570.7" y1="1125.6" x2="570.7" y2="1119.6" stroke="#000" stroke-width="2.6" stroke-linecap="round" />
<line x1="654.5" y1="1125.6" x2="654.5" y2="1119.6" stroke="#000" stroke-width="2.6" stroke-linecap="round" />
<line x1="151.8" y1="1014" x2="161.8" y2="1014" stroke="#000" stroke-width="2.6" stroke-linecap="round" />
<line x1="151.8" y1="865" x2="161.8" y2="865" stroke="#000" stroke-width="2.6" stroke-linecap="round" />
<line x1="151.8" y1="716" x2="161.8" y2="716" stroke="#000" stroke-width="2.6" stroke-linecap="round" />
<line x1="151.8" y1="1088.5" x2="157.8" y2="1088.5" stroke="#000" stroke-width="2.6" stroke-linecap="round" />
<line x1="151.8" y1="939.5" x2="157.8" y2="939.5" stroke="#000" stroke-width="2.6" stroke-linecap="round" />
<line x1="151.8" y1="790.5" x2="157.8" y2="790.5" stroke="#000" stroke-width="2.6" stroke-linecap="round" />
<text transform="translate(193.6,1162) scale(0.91,1.0)" font-family="'Liberation Serif', 'Noto Serif CJK SC', serif" font-weight="bold" font-size="36" text-anchor="middle" fill="#000">18</text>
<text transform="translate(277.4,1162) scale(0.91,1.0)" font-family="'Liberation Serif', 'Noto Serif CJK SC', serif" font-weight="bold" font-size="36" text-anchor="middle" fill="#000">20</text>
<text transform="translate(361.2,1162) scale(0.91,1.0)" font-family="'Liberation Serif', 'Noto Serif CJK SC', serif" font-weight="bold" font-size="36" text-anchor="middle" fill="#000">22</text>
<text transform="translate(445,1162) scale(0.91,1.0)" font-family="'Liberation Serif', 'Noto Serif CJK SC', serif" font-weight="bold" font-size="36" text-anchor="middle" fill="#000">24</text>
<text transform="translate(528.8,1162) scale(0.91,1.0)" font-family="'Liberation Serif', 'Noto Serif CJK SC', serif" font-weight="bold" font-size="36" text-anchor="middle" fill="#000">26</text>
<text transform="translate(612.6,1162) scale(0.91,1.0)" font-family="'Liberation Serif', 'Noto Serif CJK SC', serif" font-weight="bold" font-size="36" text-anchor="middle" fill="#000">28</text>
<text transform="translate(696.4,1162) scale(0.91,1.0)" font-family="'Liberation Serif', 'Noto Serif CJK SC', serif" font-weight="bold" font-size="36" text-anchor="middle" fill="#000">30</text>
<text transform="translate(141.4,729.1) scale(0.91,1.0)" font-family="'Liberation Serif', 'Noto Serif CJK SC', serif" font-weight="bold" font-size="36" text-anchor="end" fill="#000">1.2x10<tspan font-size="19.5" dy="-18.9">4</tspan></text>
<text transform="translate(141.4,877.5) scale(0.91,1.0)" font-family="'Liberation Serif', 'Noto Serif CJK SC', serif" font-weight="bold" font-size="36" text-anchor="end" fill="#000">8.0x10<tspan font-size="19.5" dy="-18.9">3</tspan></text>
<text transform="translate(141.4,1026.8) scale(0.91,1.0)" font-family="'Liberation Serif', 'Noto Serif CJK SC', serif" font-weight="bold" font-size="36" text-anchor="end" fill="#000">4.0x10<tspan font-size="19.5" dy="-18.9">3</tspan></text>
<polyline points="193.6,711.2 319.3,836.5 445,914.2 570.7,965 696.4,1000" fill="none" stroke="#000" stroke-width="1.3" stroke-linejoin="round" />
<polyline points="193.6,1035.2 319.3,1060.9 445,1079 570.7,1092 696.4,1102.4" fill="none" stroke="#000" stroke-width="1.6" stroke-linejoin="round" stroke-dasharray="3 0.7"/>
<rect x="188.7" y="706.3" width="9.8" height="9.8" fill="#000"/>
<rect x="314.4" y="831.6" width="9.8" height="9.8" fill="#000"/>
<rect x="440.1" y="909.3" width="9.8" height="9.8" fill="#000"/>
<rect x="565.8" y="960.1" width="9.8" height="9.8" fill="#000"/>
<rect x="691.5" y="995.1" width="9.8" height="9.8" fill="#000"/>
<circle cx="193.6" cy="1035.2" r="5.5" fill="url(#ball)"/>
<circle cx="319.3" cy="1060.9" r="5.5" fill="url(#ball)"/>
<circle cx="445" cy="1079" r="5.5" fill="url(#ball)"/>
<circle cx="570.7" cy="1092" r="5.5" fill="url(#ball)"/>
<circle cx="696.4" cy="1102.4" r="5.5" fill="url(#ball)"/>
<line x1="541.5" y1="707.5" x2="567.2" y2="707.5" stroke="#000" stroke-width="1.4" stroke-linecap="butt" />
<line x1="594.8" y1="707.5" x2="620.2" y2="707.5" stroke="#000" stroke-width="1.4" stroke-linecap="butt" />
<rect x="576.1" y="702.6" width="9.8" height="9.8" fill="#000"/>
<line x1="541.5" y1="752.6" x2="567.2" y2="752.6" stroke="#000" stroke-width="1.4" stroke-linecap="butt" />
<line x1="594.8" y1="752.6" x2="620.2" y2="752.6" stroke="#000" stroke-width="1.4" stroke-linecap="butt" />
<circle cx="581" cy="752.6" r="5.25" fill="url(#ball)"/>
<text transform="translate(628,720) scale(0.99,1.0)" font-family="'Liberation Serif', 'Noto Serif CJK SC', serif" font-weight="bold" font-size="36.5" text-anchor="start" fill="#000">250</text>
<text transform="translate(628,764.6) scale(0.99,1.0)" font-family="'Liberation Serif', 'Noto Serif CJK SC', serif" font-weight="bold" font-size="36.5" text-anchor="start" fill="#000">300</text>
<text transform="translate(684.54,719.6) scale(0.93,1.0)" font-family="'WenQuanYi Zen Hei', 'Noto Serif CJK SC', serif" font-weight="normal" font-size="35.7" text-anchor="start" fill="#000">℃</text>
<text transform="translate(684.54,764.2) scale(0.93,1.0)" font-family="'WenQuanYi Zen Hei', 'Noto Serif CJK SC', serif" font-weight="normal" font-size="35.7" text-anchor="start" fill="#000">℃</text>
<text transform="translate(391.8,1210.4) scale(0.95,1.0)" font-family="'Liberation Serif', 'Noto Serif CJK SC', serif" font-weight="bold" font-size="36" text-anchor="start" fill="#000">V<tspan font-size="22.4" dy="14.3">GS</tspan><tspan font-size="36" dy="-14.3"> (V)</tspan></text>
<text transform="translate(31.5,1012.3) rotate(-90)" font-family="'Liberation Serif', 'Noto Serif CJK SC', serif" font-weight="bold" font-size="35.3" text-anchor="start" fill="#000">R<tspan font-size="21" dy="13">ch</tspan><tspan font-size="35.3" dy="-13"> (Ω/μm)</tspan></text>
<text transform="translate(13.25,652.1)" font-family="'Liberation Serif', 'Noto Serif CJK SC', serif" font-weight="bold" font-size="39.4" text-anchor="start" fill="#000">(c)</text>
<rect x="1017.9" y="678.7" width="606" height="445.8" fill="none" stroke="#000" stroke-width="2.8" stroke-linejoin="round"/>
<line x1="1060.6" y1="1124.5" x2="1060.6" y2="1114.5" stroke="#000" stroke-width="2.6" stroke-linecap="round" />
<line x1="1190.38" y1="1124.5" x2="1190.38" y2="1114.5" stroke="#000" stroke-width="2.6" stroke-linecap="round" />
<line x1="1320.16" y1="1124.5" x2="1320.16" y2="1114.5" stroke="#000" stroke-width="2.6" stroke-linecap="round" />
<line x1="1449.94" y1="1124.5" x2="1449.94" y2="1114.5" stroke="#000" stroke-width="2.6" stroke-linecap="round" />
<line x1="1579.72" y1="1124.5" x2="1579.72" y2="1114.5" stroke="#000" stroke-width="2.6" stroke-linecap="round" />
<line x1="1125.49" y1="1124.5" x2="1125.49" y2="1118.5" stroke="#000" stroke-width="2.6" stroke-linecap="round" />
<line x1="1255.27" y1="1124.5" x2="1255.27" y2="1118.5" stroke="#000" stroke-width="2.6" stroke-linecap="round" />
<line x1="1385.05" y1="1124.5" x2="1385.05" y2="1118.5" stroke="#000" stroke-width="2.6" stroke-linecap="round" />
<line x1="1514.83" y1="1124.5" x2="1514.83" y2="1118.5" stroke="#000" stroke-width="2.6" stroke-linecap="round" />
<line x1="1017.9" y1="1050.2" x2="1027.9" y2="1050.2" stroke="#000" stroke-width="2.6" stroke-linecap="round" />
<line x1="1017.9" y1="901.4" x2="1027.9" y2="901.4" stroke="#000" stroke-width="2.6" stroke-linecap="round" />
<line x1="1017.9" y1="752.6" x2="1027.9" y2="752.6" stroke="#000" stroke-width="2.6" stroke-linecap="round" />
<line x1="1017.9" y1="975.8" x2="1023.9" y2="975.8" stroke="#000" stroke-width="2.6" stroke-linecap="round" />
<line x1="1017.9" y1="827" x2="1023.9" y2="827" stroke="#000" stroke-width="2.6" stroke-linecap="round" />
<text transform="translate(1060.6,1162) scale(0.955,1.0)" font-family="'Liberation Serif', 'Noto Serif CJK SC', serif" font-weight="bold" font-size="36" text-anchor="middle" fill="#000">18</text>
<text transform="translate(1190.38,1162) scale(0.955,1.0)" font-family="'Liberation Serif', 'Noto Serif CJK SC', serif" font-weight="bold" font-size="36" text-anchor="middle" fill="#000">21</text>
<text transform="translate(1320.16,1162) scale(0.955,1.0)" font-family="'Liberation Serif', 'Noto Serif CJK SC', serif" font-weight="bold" font-size="36" text-anchor="middle" fill="#000">24</text>
<text transform="translate(1449.94,1162) scale(0.955,1.0)" font-family="'Liberation Serif', 'Noto Serif CJK SC', serif" font-weight="bold" font-size="36" text-anchor="middle" fill="#000">27</text>
<text transform="translate(1579.72,1162) scale(0.955,1.0)" font-family="'Liberation Serif', 'Noto Serif CJK SC', serif" font-weight="bold" font-size="36" text-anchor="middle" fill="#000">30</text>
<text transform="translate(1007.6,766.5) scale(0.955,1.0)" font-family="'Liberation Serif', 'Noto Serif CJK SC', serif" font-weight="bold" font-size="36" text-anchor="end" fill="#000">1x10<tspan font-size="19.5" dy="-18.9">5</tspan></text>
<text transform="translate(1007.6,909) scale(0.955,1.0)" font-family="'Liberation Serif', 'Noto Serif CJK SC', serif" font-weight="bold" font-size="36" text-anchor="end" fill="#000">0</text>
<text transform="translate(1007.6,1064.3) scale(0.955,1.0)" font-family="'Liberation Serif', 'Noto Serif CJK SC', serif" font-weight="bold" font-size="36" text-anchor="end" fill="#000">-1x10<tspan font-size="19.5" dy="-18.9">5</tspan></text>
<polyline points="1060.6,1035.4 1190.38,845.4 1320.16,771.8 1449.94,745.7 1579.72,741.5" fill="none" stroke="#222" stroke-width="1" stroke-linejoin="round" />
<rect x="1055.7" y="1030.5" width="9.8" height="9.8" fill="#000"/>
<rect x="1185.48" y="840.5" width="9.8" height="9.8" fill="#000"/>
<rect x="1315.26" y="766.9" width="9.8" height="9.8" fill="#000"/>
<rect x="1445.04" y="740.8" width="9.8" height="9.8" fill="#000"/>
<rect x="1574.82" y="736.6" width="9.8" height="9.8" fill="#000"/>
<line x1="1437.6" y1="703.5" x2="1463.2" y2="703.5" stroke="#222" stroke-width="1" stroke-linecap="butt" />
<line x1="1493.5" y1="703.5" x2="1518.8" y2="703.5" stroke="#222" stroke-width="1" stroke-linecap="butt" />
<rect x="1473.1" y="698.6" width="9.8" height="9.8" fill="#000"/>
<text transform="translate(1527.8,715.7)" font-family="'Liberation Serif', 'Noto Serif CJK SC', serif" font-weight="bold" font-size="37.3" text-anchor="start" fill="#000">250</text>
<text transform="translate(1585.62,715.6) scale(0.93,1.0)" font-family="'WenQuanYi Zen Hei', 'Noto Serif CJK SC', serif" font-weight="normal" font-size="36.2" text-anchor="start" fill="#000">℃</text>
<text transform="translate(1263.4,1210.3)" font-family="'Liberation Serif', 'Noto Serif CJK SC', serif" font-weight="bold" font-size="36" text-anchor="start" fill="#000">V<tspan font-size="22.4" dy="14.3">GS</tspan><tspan font-size="36" dy="-14.3"> (V)</tspan></text>
<text transform="translate(899.4,1014.2) rotate(-90) scale(1.0,1.045)" font-family="'Liberation Serif', 'Noto Serif CJK SC', serif" font-weight="bold" font-size="35.5" text-anchor="start" fill="#000">R<tspan font-size="22.4" dy="12.7">SD</tspan><tspan font-size="35.5" dy="-12.7"> (Ω/μm)</tspan></text>
<text transform="translate(873.55,652.1)" font-family="'Liberation Serif', 'Noto Serif CJK SC', serif" font-weight="bold" font-size="39.4" text-anchor="start" fill="#000">(d)</text>
</svg>
</body></html>
